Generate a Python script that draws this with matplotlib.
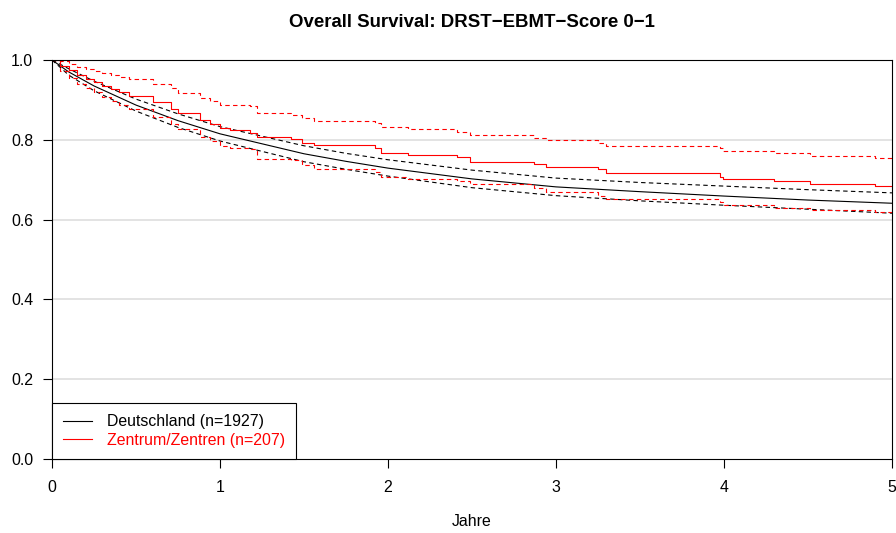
import numpy as np
import matplotlib.pyplot as plt

plt.rcParams['font.family'] = ['Liberation Sans', 'DejaVu Sans']

# Deutschland (n=1927): KM estimate with pointwise CI
de_t = [0, 0.1, 0.25, 0.5, 0.75, 1.0, 1.25, 1.5, 1.75, 2.0, 2.5, 3.0, 3.5, 4.0, 4.5, 5.0]
de_s = [1.0, 0.97, 0.935, 0.887, 0.848, 0.815, 0.79, 0.765, 0.746, 0.729, 0.702, 0.682, 0.67, 0.659, 0.649, 0.641]
de_hi = [1.0, 0.978, 0.947, 0.902, 0.865, 0.833, 0.809, 0.785, 0.766, 0.75, 0.724, 0.704, 0.693, 0.684, 0.675, 0.667]
de_lo = [1.0, 0.962, 0.923, 0.872, 0.831, 0.797, 0.771, 0.745, 0.726, 0.709, 0.68, 0.66, 0.647, 0.636, 0.626, 0.616]

# Zentrum/Zentren (n=207): step function
zt_t = [0, 0.05, 0.10, 0.15, 0.20, 0.25, 0.30, 0.35, 0.40, 0.46, 0.60, 0.71, 0.75, 0.88, 0.94,
        1.00, 1.06, 1.18, 1.22, 1.425, 1.49, 1.56, 1.92, 1.96, 2.12, 2.41, 2.49, 2.87, 2.94,
        3.25, 3.30, 3.975, 3.995, 4.30, 4.51, 4.90, 5.0]
zt_s = [1.0, 0.985, 0.975, 0.962, 0.952, 0.945, 0.935, 0.928, 0.92, 0.91, 0.895, 0.878, 0.866, 0.85, 0.84,
        0.829, 0.825, 0.818, 0.806, 0.801, 0.793, 0.786, 0.779, 0.768, 0.762, 0.756, 0.745, 0.739, 0.733,
        0.727, 0.716, 0.708, 0.702, 0.696, 0.689, 0.683, 0.683]
zt_hi = [1.0, 0.997, 0.99, 0.982, 0.977, 0.972, 0.967, 0.963, 0.958, 0.952, 0.94, 0.929, 0.918, 0.905, 0.896,
         0.888, 0.886, 0.884, 0.866, 0.863, 0.854, 0.847, 0.841, 0.831, 0.826, 0.82, 0.813, 0.805, 0.8,
         0.791, 0.784, 0.779, 0.771, 0.766, 0.76, 0.754, 0.754]
zt_lo = [1.0, 0.972, 0.955, 0.94, 0.93, 0.92, 0.907, 0.898, 0.888, 0.877, 0.858, 0.84, 0.826, 0.808, 0.797,
         0.785, 0.78, 0.776, 0.752, 0.749, 0.737, 0.728, 0.72, 0.708, 0.702, 0.697, 0.689, 0.679, 0.668,
         0.659, 0.651, 0.645, 0.637, 0.63, 0.624, 0.618, 0.618]

labels = ['Deutschland (n=1927)', 'Zentrum/Zentren (n=207)']
colors = ['black', '#ff0000']

fig = plt.figure(figsize=(8.96, 5.33), dpi=100)
ax = fig.add_axes([52 / 896, 1 - 459 / 533, (892 - 52) / 896, (459 - 60) / 533])

for yv in [0.2, 0.4, 0.6, 0.8]:
    ax.axhline(yv, color='#dedede', lw=1.2, zorder=0)

dash = (4, 3)
ax.plot(de_t, de_s, color=colors[0], lw=0.8, label=labels[0])
ax.plot(de_t, de_hi, color=colors[0], lw=0.8, dashes=dash)
ax.plot(de_t, de_lo, color=colors[0], lw=0.8, dashes=dash)

ax.plot(zt_t, zt_s, color=colors[1], lw=0.8, drawstyle='steps-post', label=labels[1])
ax.plot(zt_t, zt_hi, color=colors[1], lw=0.8, dashes=dash, drawstyle='steps-post')
ax.plot(zt_t, zt_lo, color=colors[1], lw=0.8, dashes=dash, drawstyle='steps-post')

ax.set_xlim(0, 5)
ax.set_ylim(0, 1)
ax.set_xticks(range(6))
ax.set_yticks(np.arange(0, 1.01, 0.2))
ax.set_yticklabels([f'{v:.1f}' for v in np.arange(0, 1.01, 0.2)])
ax.tick_params(axis='both', labelsize=11.4, length=6.5, width=0.8)
ax.tick_params(axis='x', pad=8.5)
ax.tick_params(axis='y', pad=7)
for sp in ax.spines.values():
    sp.set_linewidth(0.8)

ax.set_title('Overall Survival: DRST\u2212EBMT\u2212Score 0\u22121', fontsize=13.4, fontweight='bold', pad=24)
ax.set_xlabel('Jahre', fontsize=11.4, labelpad=14)

leg = ax.legend(loc='lower left', bbox_to_anchor=(0, 0), borderaxespad=0, fontsize=11.4,
                frameon=True, fancybox=False, edgecolor='black', framealpha=1,
                handlelength=1.85, handletextpad=0.9, borderpad=0.7, labelspacing=0.22)
leg.get_frame().set_linewidth(0.8)
for txt, c in zip(leg.get_texts(), colors):
    txt.set_color(c)

fig.savefig('out.png', dpi=100)
